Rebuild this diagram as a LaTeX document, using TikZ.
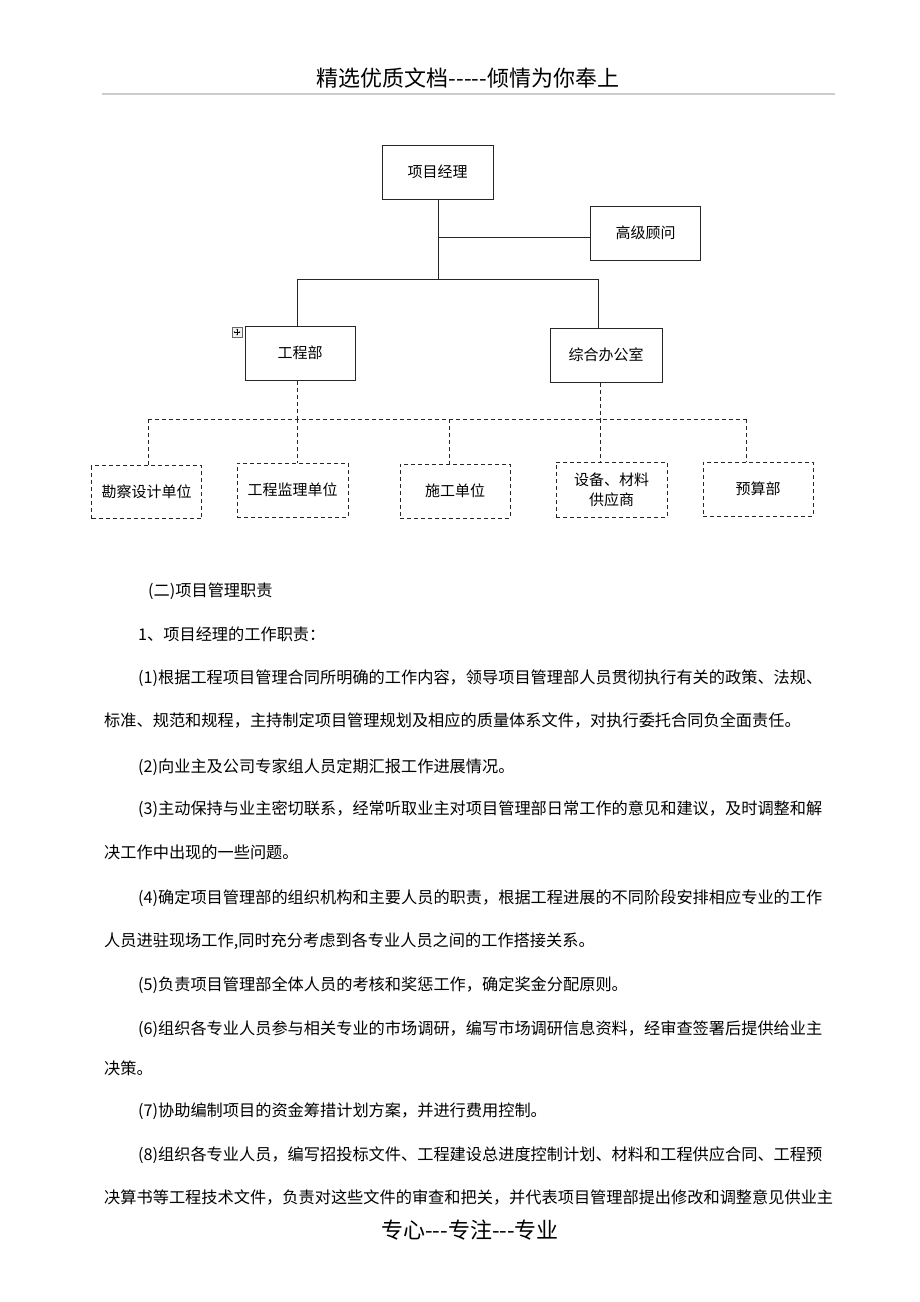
\documentclass[tikz,border=0pt]{standalone}
\usepackage{fontspec}
\setmainfont{Noto Sans CJK SC}[Ligatures=TeXOff]
\usepackage{tikz}
\usetikzlibrary{arrows.meta}

\begin{document}
\begin{tikzpicture}[x=1pt,y=-1pt,
	kasten/.style={draw=black!85, line width=1pt, minimum width=111pt, minimum height=54pt, inner sep=2pt, align=center, font=\fontsize{15}{20}\selectfont},
	strichkasten/.style={kasten, dash pattern=on 4pt off 3pt},
	linie/.style={draw=black!85, line width=1pt},
	strichlinie/.style={linie, dash pattern=on 4pt off 3pt},
	zeile/.style={anchor=base west, inner sep=0pt, font=\fontsize{16.2}{20}\selectfont}]
	\useasboundingbox (0,0) rectangle (920,1302);
	
	%Kopf und Fuss der Seite
	\node[inner sep=0pt, font=\fontsize{22}{24}\selectfont] (kopf) at (468,78) {精选优质文档-----倾情为你奉上};
	\draw[gray!40, line width=1.5pt] (102,94) -- (835,94);
	\node[inner sep=0pt, font=\fontsize{22}{24}\selectfont] (fuss) at (470,1230) {专心---专注---专业};
	
	%Kaesten
	\node[kasten] (pm) at (437.5,172) {项目经理};
	\node[kasten, minimum width=110pt] (gw) at (645.5,233) {高级顾问};
	\node[kasten, minimum width=110pt] (eng) at (300,353) {工程部};
	\node[kasten, minimum width=112pt] (off) at (606,355) {综合办公室};
	\node[strichkasten, minimum width=110pt, minimum height=53pt] (b1) at (146.5,492) {勘察设计单位};
	\node[strichkasten] (b2) at (292.5,490) {工程监理单位};
	\node[strichkasten, minimum width=110pt] (b3) at (455,491) {施工单位};
	\node[strichkasten, minimum height=55pt] (b4) at (611.5,489.5) {设备、材料\\供应商};
	\node[strichkasten, minimum width=110pt] (b5) at (758,489) {预算部};
	
	%Griff am Kasten
	\node[draw=black!60, fill=black!5, minimum size=10pt, inner sep=0pt] (griff) at (237,332) {};
	\draw[{Stealth[length=1.5pt]}-{Stealth[length=1.5pt]}, line width=0.4pt] ([xshift=-3.5pt]griff.center) -- ([xshift=3.5pt]griff.center);
	\draw[{Stealth[length=1.5pt]}-{Stealth[length=1.5pt]}, line width=0.4pt] ([yshift=-3.5pt]griff.center) -- ([yshift=3.5pt]griff.center);
	
	%Verbindungen
	\coordinate (k1) at (438,279);
	\coordinate (k2) at (438,237);
	\coordinate (a1) at (297,279);
	\coordinate (a2) at (598,279);
	\draw[linie] (pm.south -| k1) -- (k1);
	\draw[linie] (k2) -- (k2 -| gw.west);
	\draw[linie] (a1 |- eng.north) -- (a1) -- (a2) -- (a2 |- off.north);
	
	\coordinate (e1) at (297,419);
	\coordinate (e2) at (600,419);
	\coordinate (d1) at (148,419);
	\coordinate (d2) at (297,419);
	\coordinate (d3) at (449,419);
	\coordinate (d4) at (600,419);
	\coordinate (d5) at (746,419);
	\draw[strichlinie] (e1 |- eng.south) -- (e1);
	\draw[strichlinie] (e2 |- off.south) -- (e2);
	\draw[strichlinie] (d1) -- (d5);
	\foreach \i in {1,...,5}
		\draw[strichlinie] (d\i) -- (d\i |- b\i.north);
	
	%Text
	\node[zeile] (z1) at (148,596) {(二)项目管理职责};
	\node[zeile] (z2) at (138,640) {1、项目经理的工作职责：};
	\node[zeile] (z3) at (138,683) {(1)根据工程项目管理合同所明确的工作内容，领导项目管理部人员贯彻执行有关的政策、法规、};
	\node[zeile] (z4) at (104,726) {标准、规范和规程，主持制定项目管理规划及相应的质量体系文件，对执行委托合同负全面责任。};
	\node[zeile] (z5) at (138,772) {(2)向业主及公司专家组人员定期汇报工作进展情况。};
	\node[zeile] (z6) at (138,814) {(3)主动保持与业主密切联系，经常听取业主对项目管理部日常工作的意见和建议，及时调整和解};
	\node[zeile] (z7) at (104,858) {决工作中出现的一些问题。};
	\node[zeile] (z8) at (138,903) {(4)确定项目管理部的组织机构和主要人员的职责，根据工程进展的不同阶段安排相应专业的工作};
	\node[zeile] (z9) at (104,946) {人员进驻现场工作,同时充分考虑到各专业人员之间的工作搭接关系。};
	\node[zeile] (z10) at (138,990) {(5)负责项目管理部全体人员的考核和奖惩工作，确定奖金分配原则。};
	\node[zeile] (z11) at (138,1034) {(6)组织各专业人员参与相关专业的市场调研，编写市场调研信息资料，经审查签署后提供给业主};
	\node[zeile] (z12) at (104,1074) {决策。};
	\node[zeile] (z13) at (138,1116) {(7)协助编制项目的资金筹措计划方案，并进行费用控制。};
	\node[zeile] (z14) at (138,1160) {(8)组织各专业人员，编写招投标文件、工程建设总进度控制计划、材料和工程供应合同、工程预};
	\node[zeile] (z15) at (104,1203) {决算书等工程技术文件，负责对这些文件的审查和把关，并代表项目管理部提出修改和调整意见供业主};
\end{tikzpicture}
\end{document}
